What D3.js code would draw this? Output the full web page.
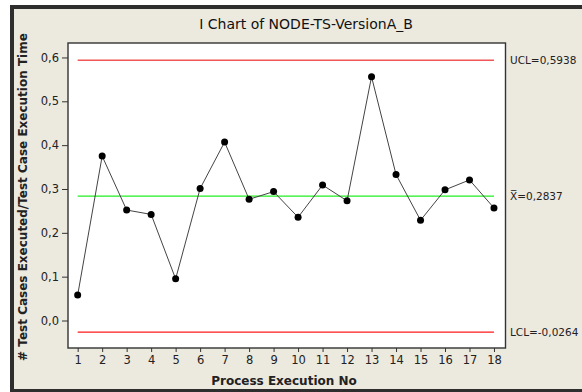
<!DOCTYPE html>
<html><head><meta charset="utf-8">
<script src="https://cdn.jsdelivr.net/npm/d3@7"></script>
<style>
html,body{margin:0;padding:0;background:#fff;}
svg{display:block;}
text{font-family:"DejaVu Sans",Verdana,sans-serif;}
</style></head>
<body><svg id="c" width="582" height="392"></svg>
<script>
const processNo = [1,2,3,4,5,6,7,8,9,10,11,12,13,14,15,16,17,18];
const values = [0.058,0.375,0.252,0.242,0.095,0.301,0.407,0.2765,0.294,0.2355,0.309,0.273,0.556,0.333,0.2286,0.298,0.3206,0.2567];
const centerLine = 0.2837;
const ucl = 0.5938;
const lcl = -0.0264;
const yTicks = [0,0.1,0.2,0.3,0.4,0.5,0.6];
const title = "I Chart of NODE-TS-VersionA_B";
const xLabel = "Process Execution No";
const yLabel = "# Test Cases Executed/Test Case Execution Time";
const limitLabels = ["UCL=0,5938","X\u0305=0,2837","LCL=-0,0264"];

const svg = d3.select("#c");
const loc = d3.formatLocale({decimal:",",thousands:".",grouping:[3],currency:["",""]});
const f1 = loc.format(".1f");

// frame
svg.append("rect").attr("x",10).attr("y",5).attr("width",600).attr("height",400).attr("fill","#2e2e2e");
svg.append("rect").attr("x",14).attr("y",9).attr("width",600).attr("height",380).attr("fill","#ECE9DF");

const L=68, T=43, R=505.5, B=348;
const x = d3.scaleLinear().domain([0.605,18.47]).range([L,R]);
const y = d3.scaleLinear().domain([-0.0627,0.633]).range([B,T]);

svg.append("rect").attr("x",L).attr("y",T).attr("width",R-L).attr("height",B-T)
  .attr("fill","#fff").attr("stroke","#333").attr("stroke-width",1.4);

// axes
const ya = svg.append("g").attr("transform",`translate(${L},0)`)
  .call(d3.axisLeft(y).tickValues(yTicks).tickFormat(f1).tickSize(6).tickPadding(3));
const xa = svg.append("g").attr("transform",`translate(0,${B})`)
  .call(d3.axisBottom(x).tickValues(processNo).tickFormat(d3.format("d")).tickSize(4).tickPadding(4));
[ya,xa].forEach(g=>{
  g.select(".domain").remove();
  g.selectAll(".tick line").attr("stroke","#333");
  g.selectAll("text").attr("font-size","11.5px").attr("fill","#222")
   .attr("font-family","'DejaVu Sans',Verdana,sans-serif");
});

// limit lines
const x0 = x(processNo[0]), x1 = x(processNo[processNo.length-1]);
svg.append("line").attr("x1",x0).attr("x2",x1).attr("y1",y(ucl)).attr("y2",y(ucl)).attr("stroke","#f25555").attr("stroke-width",1.6);
svg.append("line").attr("x1",x0).attr("x2",x1).attr("y1",y(lcl)).attr("y2",y(lcl)).attr("stroke","#ff1a1a").attr("stroke-width",1.2);
svg.append("line").attr("x1",x0).attr("x2",x1).attr("y1",y(centerLine)).attr("y2",y(centerLine)).attr("stroke","#22ee22").attr("stroke-width",1.3);

// series
const line = d3.line().x((d,i)=>x(processNo[i])).y(d=>y(d));
svg.append("path").datum(values).attr("d",line).attr("fill","none").attr("stroke","#444").attr("stroke-width",1);
svg.selectAll("circle.pt").data(values).join("circle").attr("class","pt")
  .attr("cx",(d,i)=>x(processNo[i])).attr("cy",d=>y(d)).attr("r",3.5).attr("fill","#000");

// limit labels
[ucl,centerLine,lcl].forEach((v,i)=>{
  svg.append("text").attr("x",510).attr("y",y(v)).attr("dy","0.35em")
    .attr("font-size","10.5px").attr("fill","#222").text(limitLabels[i]);
});

// title and axis labels
svg.append("text").attr("x",306).attr("y",29).attr("text-anchor","middle")
  .attr("font-size","14px").attr("fill","#111").text(title);
svg.append("text").attr("x",284).attr("y",385).attr("text-anchor","middle")
  .attr("font-size","12px").attr("font-weight","bold").attr("fill","#222").text(xLabel);
svg.append("text").attr("transform","translate(27,197) rotate(-90)").attr("text-anchor","middle")
  .attr("font-size","12px").attr("font-weight","bold").attr("fill","#222").text(yLabel);
</script></body></html>
